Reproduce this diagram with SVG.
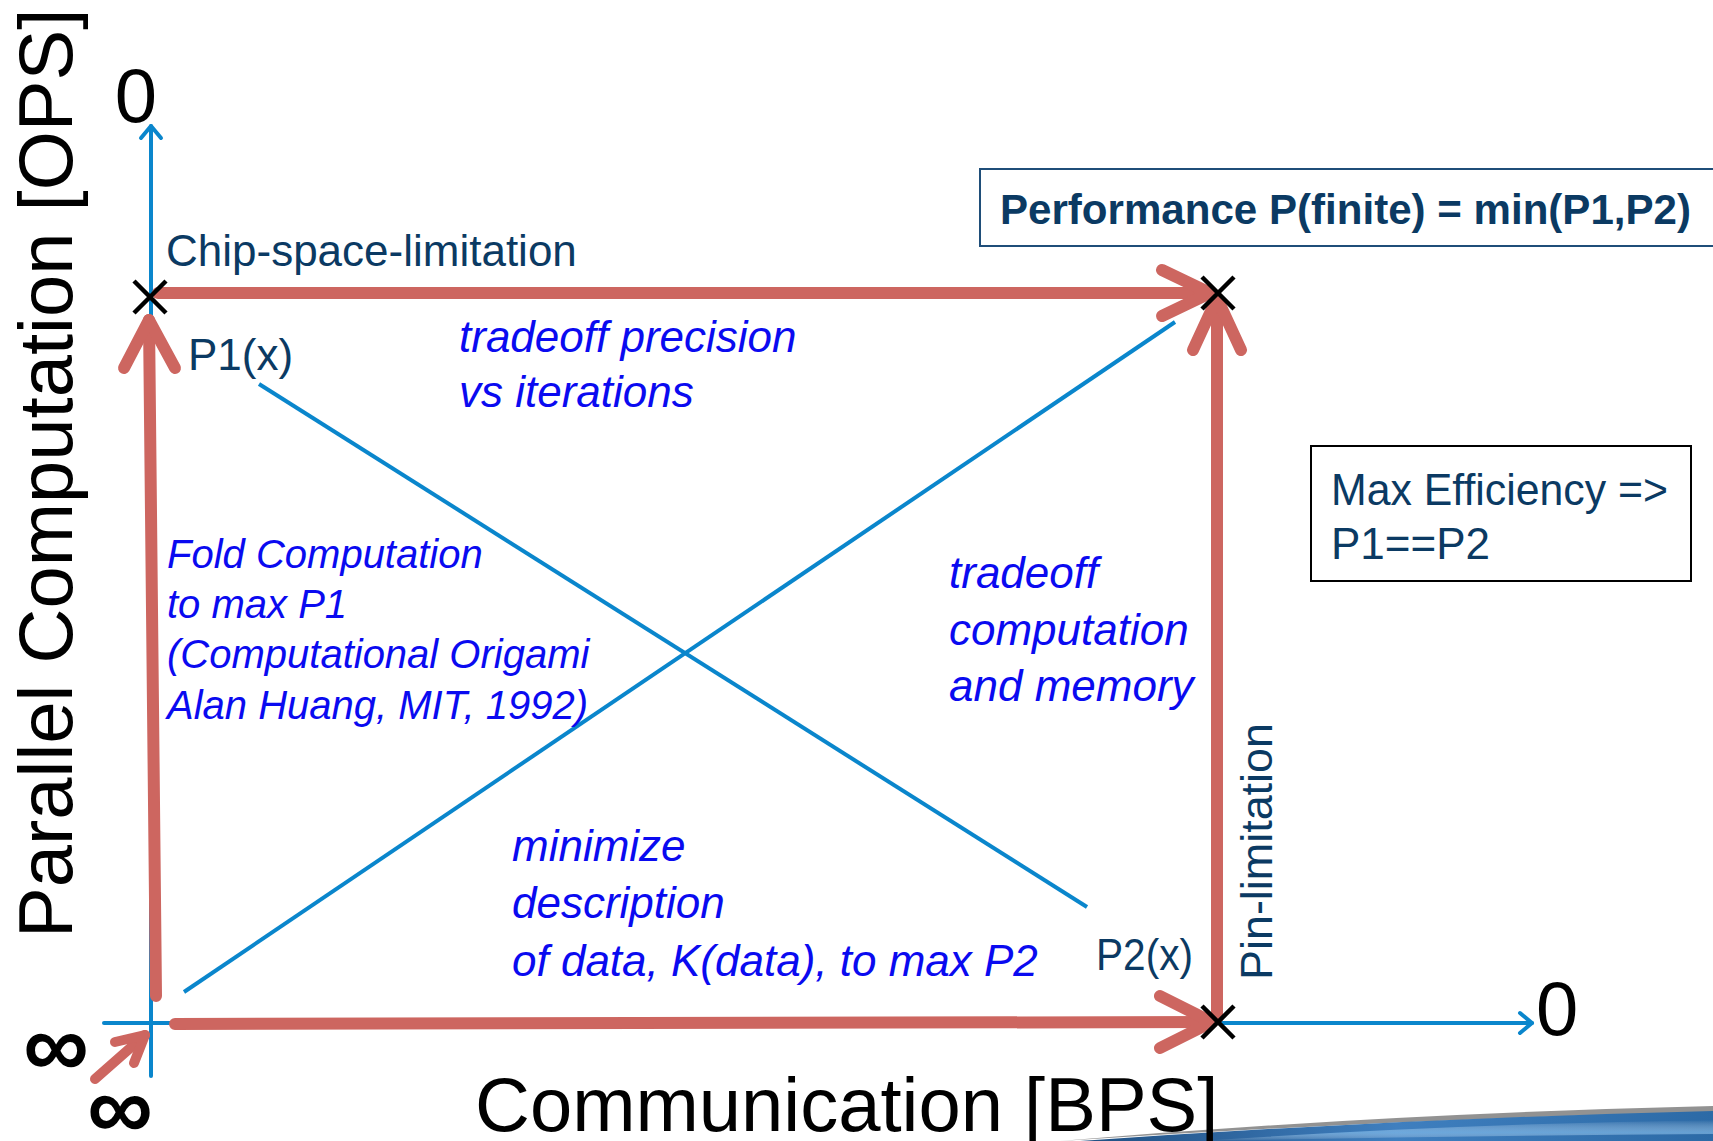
<svg xmlns="http://www.w3.org/2000/svg" width="1713" height="1141" viewBox="0 0 1713 1141">
<defs>
<style>
.ax{stroke:#0a86cc;stroke-width:4;fill:none;stroke-linecap:round;stroke-linejoin:round}
.rd{stroke:#cd6660;stroke-width:12;fill:none;stroke-linecap:round;stroke-linejoin:round}
.xm{stroke:#000;stroke-width:4.5;fill:none}
.bl{stroke:#0a86cc;stroke-width:4;fill:none}
.big{font-family:"Liberation Sans",Arial,sans-serif;font-size:76px;fill:#000}
.inf{font-family:"Liberation Sans",Arial,sans-serif;font-size:92px;fill:#000;font-weight:bold}
.lab{font-family:"Liberation Sans",Arial,sans-serif;font-size:44px;fill:#0b3a63}
.it{font-family:"Liberation Sans",Arial,sans-serif;font-style:italic;font-size:44px;fill:#0a0af0}
</style>
<linearGradient id="sw" x1="0" y1="0" x2="1" y2="0">
<stop offset="0" stop-color="#1f4f82"/>
<stop offset="0.5" stop-color="#3f7fbf"/>
<stop offset="1" stop-color="#2c6aa6"/>
</linearGradient>
<linearGradient id="sw2" x1="0" y1="0" x2="0" y2="1">
<stop offset="0" stop-color="#ffffff" stop-opacity="0"/>
<stop offset="0.6" stop-color="#8cc4f0" stop-opacity="0.6"/>
<stop offset="1" stop-color="#ffffff" stop-opacity="0"/>
</linearGradient>
</defs>
<rect width="1713" height="1141" fill="#fff"/>

<g id="swoosh">
<path d="M1060,1141 Q1380,1114 1713,1106 L1713,1112 Q1380,1120 1060,1141 Z" fill="#777" opacity="0.8"/>
<path d="M1080,1141 Q1390,1119 1713,1111 L1713,1141 Z" fill="url(#sw)"/>
<path d="M1200,1141 Q1450,1124 1713,1120 L1713,1134 Q1450,1136 1200,1141 Z" fill="url(#sw2)"/>
</g>

<g id="axes">
<g id="y-axis">
<line class="ax" x1="151" y1="1076" x2="151" y2="126"/>
<polyline class="ax" points="141,138 151,126 161,138"/>
<text class="big" x="136" y="122" text-anchor="middle">0</text>
</g>
<g id="x-axis">
<line class="ax" x1="104" y1="1023" x2="1532" y2="1023"/>
<polyline class="ax" points="1520,1013 1532,1023 1520,1033"/>
<text class="big" x="1536" y="1035">0</text>
</g>
<text class="big" transform="translate(72,938) rotate(-90)">Parallel Computation [OPS]</text>
<text class="big" x="475" y="1131">Communication [BPS]</text>
<text class="inf" x="56" y="1077" text-anchor="middle">∞</text>
<text class="inf" x="120" y="1139" text-anchor="middle">∞</text>
</g>

<g id="connectors">
<g id="red-left">
<line class="rd" x1="156" y1="996" x2="149" y2="320"/>
<polyline class="rd" points="124,368 149,320 175,368"/>
</g>
<g id="red-top">
<line class="rd" x1="158" y1="293" x2="1210" y2="293"/>
<polyline class="rd" points="1162,270 1210,293 1162,316"/>
</g>
<g id="red-bottom">
<line class="rd" x1="175" y1="1024" x2="1212" y2="1022"/>
<polyline class="rd" points="1160,996 1212,1022 1160,1048"/>
</g>
<g id="red-right">
<line class="rd" x1="1217" y1="1018" x2="1217" y2="298"/>
<polyline class="rd" points="1193,350 1217,298 1241,350"/>
</g>
<g id="red-small">
<line stroke="#cd6660" stroke-width="10" stroke-linecap="round" x1="95" y1="1079" x2="145" y2="1035"/>
<polyline stroke="#cd6660" stroke-width="10" stroke-linecap="round" stroke-linejoin="round" fill="none" points="115,1042 145,1035 134,1063"/>
</g>
<g id="blue-lines">
<line class="bl" x1="259" y1="384" x2="1087" y2="907"/>
<line class="bl" x1="184" y1="992" x2="1175" y2="322"/>
</g>
</g>

<g id="marks">
<path class="xm" d="M134,281 L166,313 M166,281 L134,313"/>
<path class="xm" d="M1202,277 L1234,309 M1234,277 L1202,309"/>
<path class="xm" d="M1202,1006 L1234,1038 M1234,1006 L1202,1038"/>
</g>

<g id="labels">
<text class="lab" x="166" y="266">Chip-space-limitation</text>
<text class="lab" x="188" y="370">P1(x)</text>
<text class="lab" x="1096" y="970" textLength="97" lengthAdjust="spacingAndGlyphs">P2(x)</text>
<text class="lab" transform="translate(1272,980) rotate(-90)" textLength="257" lengthAdjust="spacingAndGlyphs">Pin-limitation</text>
</g>

<g id="performance-box">
<rect x="980" y="169" width="745" height="77" fill="#fff" stroke="#1f4e79" stroke-width="2"/>
<text x="1000" y="224" style="font-family:'Liberation Sans',Arial,sans-serif;font-weight:bold;font-size:42px;fill:#0b3a63" textLength="691" lengthAdjust="spacingAndGlyphs">Performance P(finite) = min(P1,P2)</text>
</g>

<g id="efficiency-box">
<rect x="1311" y="446" width="380" height="135" fill="#fff" stroke="#000" stroke-width="2"/>
<text class="lab" x="1331" y="505" textLength="337" lengthAdjust="spacingAndGlyphs">Max Efficiency =&gt;</text>
<text class="lab" x="1331" y="559">P1==P2</text>
</g>

<g id="notes">
<text class="it" x="459" y="352">tradeoff precision</text>
<text class="it" x="459" y="407">vs iterations</text>
<text class="it" style="font-size:40px" x="167" y="568">Fold Computation</text>
<text class="it" style="font-size:40px" x="167" y="618">to max P1</text>
<text class="it" style="font-size:40px" x="167" y="668">(Computational Origami</text>
<text class="it" style="font-size:40px" x="167" y="719">Alan Huang, MIT, 1992)</text>
<text class="it" x="949" y="588">tradeoff</text>
<text class="it" x="949" y="645">computation</text>
<text class="it" x="949" y="701">and memory</text>
<text class="it" x="512" y="861">minimize</text>
<text class="it" x="512" y="918">description</text>
<text class="it" x="512" y="976">of data, K(data), to max P2</text>
</g>
</svg>
